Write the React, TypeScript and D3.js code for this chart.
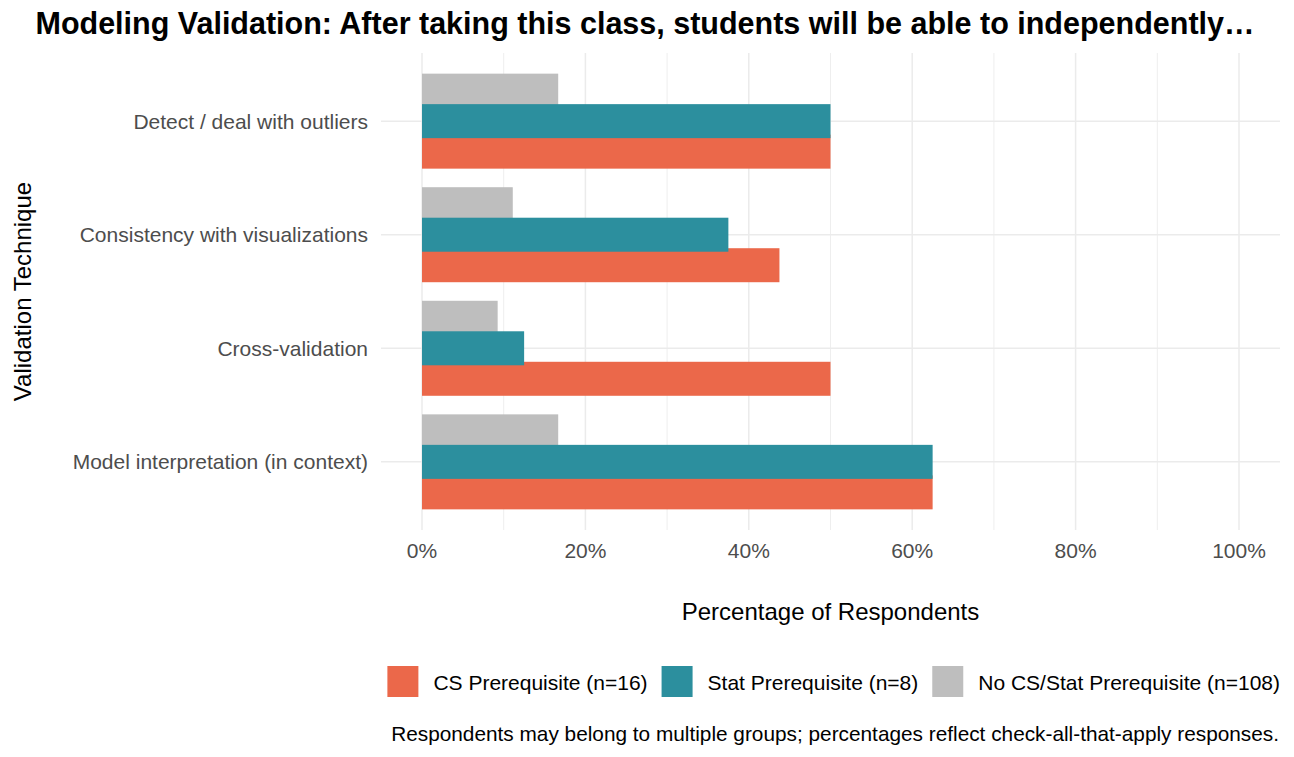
import React, { useRef, useEffect } from "react";
import * as d3 from "d3";

// validation techniques, top to bottom
const techniques = [
  "Detect / deal with outliers",
  "Consistency with visualizations",
  "Cross-validation",
  "Model interpretation (in context)",
];

// percentage of respondents per group, same order as techniques
const csPrereq = [50, 43.75, 50, 62.5];
const statPrereq = [50, 37.5, 12.5, 62.5];
const noPrereq = [16.67, 11.11, 9.26, 16.67];

const groupKeys = ["none", "stat", "cs"];
const groupLabels = [
  "CS Prerequisite (n=16)",
  "Stat Prerequisite (n=8)",
  "No CS/Stat Prerequisite (n=108)",
];
const legendKeys = ["cs", "stat", "none"];
const xTicks = [0, 20, 40, 60, 80, 100];
const xMinor = [10, 30, 50, 70, 90];

const colors: Record<string, string> = {
  cs: "#EB684A",
  stat: "#2C8F9E",
  none: "#BEBEBE",
};

const title =
  "Modeling Validation: After taking this class, students will be able to independently…";
const footnote =
  "Respondents may belong to multiple groups; percentages reflect check-all-that-apply responses.";

const W = 1294;
const H = 757;
const font = "'Liberation Sans', Arial, sans-serif";

const App: React.FC = () => {
  const ref = useRef<SVGSVGElement>(null);

  useEffect(() => {
    if (!ref.current) return;
    const svg = d3.select(ref.current);
    svg.selectAll("*").remove();

    const panel = { left: 381, right: 1280, top: 53, bottom: 530 };

    const x = d3.scaleLinear().domain([0, 100]).range([422, 1239]);
    const y = d3
      .scalePoint<string>()
      .domain(techniques)
      .range([panel.top, panel.bottom])
      .padding(0.6);
    // dodge offsets within a category
    const dodge = d3.scaleBand<string>().domain(groupKeys).range([-45.75, 45.75]);
    const barH = 34;

    // grid
    const grid = svg.append("g");
    grid
      .selectAll("line.minor")
      .data(xMinor)
      .join("line")
      .attr("x1", (d) => x(d))
      .attr("x2", (d) => x(d))
      .attr("y1", panel.top)
      .attr("y2", panel.bottom)
      .attr("stroke", "#EEEEEE")
      .attr("stroke-width", 1);
    grid
      .selectAll("line.major")
      .data(xTicks)
      .join("line")
      .attr("x1", (d) => x(d))
      .attr("x2", (d) => x(d))
      .attr("y1", panel.top)
      .attr("y2", panel.bottom)
      .attr("stroke", "#EBEBEB")
      .attr("stroke-width", 1.5);
    grid
      .selectAll("line.h")
      .data(techniques)
      .join("line")
      .attr("x1", panel.left)
      .attr("x2", panel.right)
      .attr("y1", (d) => y(d)!)
      .attr("y2", (d) => y(d)!)
      .attr("stroke", "#EBEBEB")
      .attr("stroke-width", 1.5);

    // bars: gray first, then red, teal on top
    const series: [string, number[]][] = [
      ["none", noPrereq],
      ["cs", csPrereq],
      ["stat", statPrereq],
    ];
    series.forEach(([key, vals]) => {
      svg
        .append("g")
        .selectAll("rect")
        .data(vals)
        .join("rect")
        .attr("x", x(0))
        .attr("width", (d) => x(d) - x(0))
        .attr("y", (_, i) => y(techniques[i])! + dodge(key)! + dodge.bandwidth() / 2 - barH / 2)
        .attr("height", barH)
        .attr("fill", colors[key]);
    });

    // y tick labels
    svg
      .append("g")
      .selectAll("text")
      .data(techniques)
      .join("text")
      .attr("x", 368)
      .attr("y", (d) => y(d)!)
      .attr("dy", "0.36em")
      .attr("text-anchor", "end")
      .attr("fill", "#4D4D4D")
      .style("font-size", "21px")
      .text((d) => d);

    // x tick labels
    svg
      .append("g")
      .selectAll("text")
      .data(xTicks)
      .join("text")
      .attr("x", (d) => x(d))
      .attr("y", 558)
      .attr("text-anchor", "middle")
      .attr("fill", "#4D4D4D")
      .style("font-size", "21px")
      .text((d) => `${d}%`);

    // axis titles
    svg
      .append("text")
      .attr("x", (panel.left + panel.right) / 2)
      .attr("y", 620)
      .attr("text-anchor", "middle")
      .style("font-size", "24px")
      .text("Percentage of Respondents");
    svg
      .append("text")
      .attr("transform", `translate(31,${(panel.top + panel.bottom) / 2}) rotate(-90)`)
      .attr("text-anchor", "middle")
      .style("font-size", "24px")
      .text("Validation Technique");

    // title
    svg
      .append("text")
      .attr("x", 645)
      .attr("y", 34)
      .attr("text-anchor", "middle")
      .style("font-size", "30.5px")
      .style("font-weight", "bold")
      .text(title);

    // legend, right-aligned to the panel edge
    const legend = svg.append("g");
    const items = legend
      .selectAll("g")
      .data(legendKeys)
      .join("g");
    items
      .append("rect")
      .attr("width", 31)
      .attr("height", 31)
      .attr("y", 666)
      .attr("fill", (d) => colors[d]);
    const labels = items
      .append("text")
      .attr("y", 690)
      .style("font-size", "21px")
      .text((d, i) => groupLabels[i]);
    const widths = labels.nodes().map((n) => (n as SVGTextElement).getComputedTextLength());
    const keyW = 31;
    const gapKey = 15;
    const gapItem = 14;
    const total = d3.sum(widths) + legendKeys.length * (keyW + gapKey) + gapItem * (legendKeys.length - 1);
    let cx = 1280 - total;
    items.each(function (_, i) {
      const g = d3.select(this);
      g.select("rect").attr("x", cx);
      g.select("text").attr("x", cx + keyW + gapKey);
      cx += keyW + gapKey + widths[i] + gapItem;
    });

    // footnote
    svg
      .append("text")
      .attr("x", 1279)
      .attr("y", 741)
      .attr("text-anchor", "end")
      .style("font-size", "20.8px")
      .text(footnote);
  }, []);

  return (
    <svg
      ref={ref}
      width={W}
      height={H}
      style={{ position: "absolute", left: 0, top: 0, fontFamily: font, background: "#fff" }}
    />
  );
};

export default App;
